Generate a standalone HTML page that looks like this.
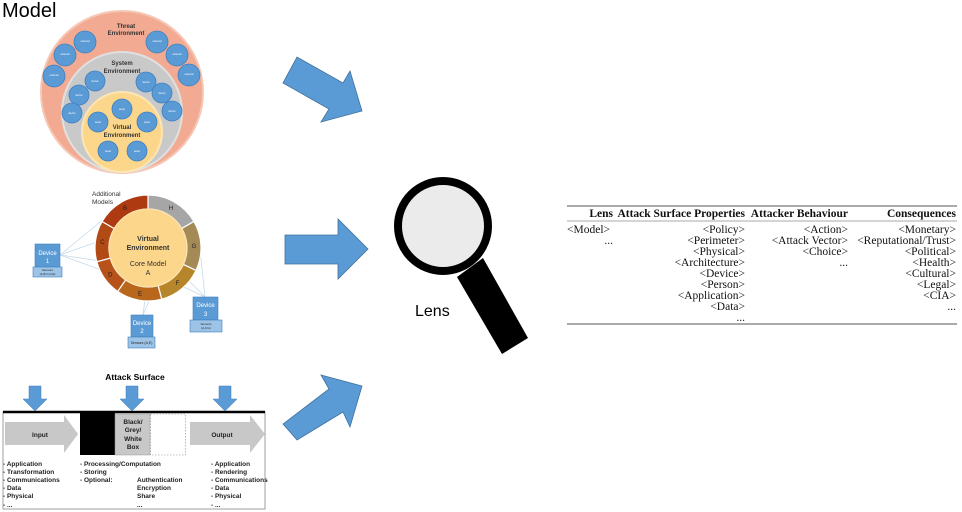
<!DOCTYPE html>
<html><head><meta charset="utf-8"><style>
html,body{margin:0;padding:0;background:#fff;}
svg{display:block;}
.s{font-family:"Liberation Sans",sans-serif;}
.t{font-family:"Liberation Serif",serif;font-size:11.5px;}
</style></head><body>
<svg width="962" height="512" viewBox="0 0 962 512" xmlns="http://www.w3.org/2000/svg">
<text x="2" y="17" class="s" font-size="20">Model</text>
<!-- model circles -->
<circle cx="122" cy="92" r="81" fill="#f2ab92" stroke="#f6c7b4" stroke-width="2"/>
<circle cx="122" cy="112" r="60" fill="#c9c9c9" stroke="#e0e0e0" stroke-width="2"/>
<circle cx="122" cy="132" r="40" fill="#fcd68a" stroke="#fde6b3" stroke-width="2"/>
<g fill="#5b9bd5" stroke="#3f7fbf" stroke-width="0.8">
<circle cx="85" cy="42" r="11"/><circle cx="65" cy="55" r="11"/><circle cx="54" cy="76" r="11"/>
<circle cx="157" cy="42" r="11"/><circle cx="177" cy="55" r="11"/><circle cx="189" cy="75" r="11"/>
<circle cx="95" cy="81" r="10"/><circle cx="79" cy="95" r="10"/><circle cx="72" cy="113" r="10"/>
<circle cx="146" cy="82" r="10"/><circle cx="162" cy="93" r="10"/><circle cx="172" cy="111" r="10"/>
<circle cx="122" cy="109" r="10"/><circle cx="98" cy="122" r="10"/><circle cx="147" cy="122" r="10"/>
<circle cx="108" cy="151" r="10"/><circle cx="137" cy="151" r="10"/>
</g>
<g class="s" font-size="2.5" fill="#fff" text-anchor="middle">
<text x="85" y="42">external</text><text x="65" y="55">external</text><text x="54" y="76">external</text>
<text x="157" y="42">external</text><text x="177" y="55">external</text><text x="189" y="75">external</text>
<text x="95" y="82">device</text><text x="79" y="96">device</text><text x="72" y="114">device</text>
<text x="146" y="83">device</text><text x="162" y="94">device</text><text x="172" y="112">device</text>
<text x="122" y="110">asset</text><text x="98" y="123">asset</text><text x="147" y="123">asset</text>
<text x="108" y="152">asset</text><text x="137" y="152">asset</text>
</g>
<g class="s" font-size="6" font-weight="bold" fill="#333" text-anchor="middle">
<text x="126" y="28">Threat</text><text x="126" y="35">Environment</text>
<text x="122" y="65">System</text><text x="122" y="73">Environment</text>
<text x="122" y="129">Virtual</text><text x="122" y="137">Environment</text>
</g>
<!-- wheel -->
<g stroke="#c5d9ea" stroke-width="0.8" fill="none">
<line x1="60" y1="255" x2="105" y2="218"/><line x1="60" y1="255" x2="108" y2="238"/>
<line x1="60" y1="255" x2="148" y2="268"/><line x1="60" y1="255" x2="115" y2="275"/>
<line x1="143" y1="315" x2="148" y2="275"/><line x1="143" y1="315" x2="150" y2="299"/>
<line x1="205" y1="297" x2="148" y2="270"/><line x1="205" y1="297" x2="200" y2="250"/><line x1="205" y1="297" x2="190" y2="282"/>
</g>
<g id="wheel" stroke="#fff" stroke-width="1.2"></g>
<circle cx="148" cy="248" r="39" fill="#fcd68a" stroke="#fde6b3" stroke-width="1"/>
<g class="s" font-size="7" fill="#333" text-anchor="middle">
<text x="148" y="241" font-weight="bold">Virtual</text><text x="148" y="250" font-weight="bold">Environment</text>
<text x="148" y="266">Core Model</text><text x="148" y="275">A</text>
<text x="92" y="196" text-anchor="start" font-size="6.5">Additional</text><text x="92" y="204" text-anchor="start" font-size="6.5">Models</text>
</g>
<g class="s" font-size="6" fill="#222" text-anchor="middle" id="wl"></g>
<!-- devices -->
<g class="s" text-anchor="middle">
<rect x="35" y="244" width="25" height="23" fill="#5b9bd5" stroke="#3f7fbf" stroke-width="0.6"/>
<rect x="33" y="267" width="29" height="10" fill="#9dc3e6" stroke="#3f7fbf" stroke-width="0.6"/>
<text x="47.5" y="255" font-size="6" fill="#fff">Device</text><text x="47.5" y="263" font-size="6" fill="#fff">1</text>
<text x="47.5" y="271" font-size="3" fill="#222">Sensors</text><text x="47.5" y="275" font-size="3" fill="#222">(A,B,C,D,E)</text>
<rect x="131" y="315" width="22" height="22" fill="#5b9bd5" stroke="#3f7fbf" stroke-width="0.6"/>
<rect x="128" y="337" width="27" height="11" fill="#9dc3e6" stroke="#3f7fbf" stroke-width="0.6"/>
<text x="142" y="325" font-size="6" fill="#fff">Device</text><text x="142" y="333" font-size="6" fill="#fff">2</text>
<text x="141.5" y="344" font-size="3.5" fill="#222">Sensors (A,E)</text>
<rect x="193" y="297" width="25" height="23" fill="#5b9bd5" stroke="#3f7fbf" stroke-width="0.6"/>
<rect x="190" y="320" width="32" height="12" fill="#9dc3e6" stroke="#3f7fbf" stroke-width="0.6"/>
<text x="205.5" y="307" font-size="6" fill="#fff">Device</text><text x="205.5" y="316" font-size="6" fill="#fff">3</text>
<text x="206" y="325" font-size="3" fill="#222">Sensors</text><text x="206" y="329" font-size="3" fill="#222">(A,F,G)</text>
</g>
<!-- attack surface -->
<text x="135" y="380" class="s" font-size="8.5" font-weight="bold" text-anchor="middle">Attack Surface</text>
<rect x="3" y="412" width="262" height="97" fill="#fff" stroke="#888" stroke-width="0.8"/>
<line x1="3" y1="412" x2="265" y2="412" stroke="#000" stroke-width="2.5"/>
<g fill="#5b9bd5" stroke="#3f7fbf" stroke-width="0.5">
<polygon points="29,386 41,386 41,399 47,399 35,411 23,399 29,399"/>
<polygon points="126,386 138,386 138,399 144,399 132,411 120,399 126,399"/>
<polygon points="219,386 231,386 231,399 237,399 225,411 213,399 219,399"/>
</g>
<polygon points="5,422 64,422 64,415 78,434 64,453 64,445 5,445" fill="#c8c8c8"/>
<polygon points="190,422 250,422 250,415 265,434 250,453 250,445 190,445" fill="#c8c8c8"/>
<rect x="80" y="413" width="35" height="42" fill="#000"/>
<rect x="115" y="414" width="35" height="41" fill="#c8c8c8" stroke="#999" stroke-width="0.5"/>
<rect x="150.5" y="414" width="35" height="41" fill="#fff" stroke="#888" stroke-width="0.6" stroke-dasharray="1.5,1.5"/>
<g class="s" font-size="6.5" font-weight="bold" fill="#222">
<text x="40" y="437" text-anchor="middle">Input</text>
<text x="222" y="437" text-anchor="middle">Output</text>
<text x="133" y="424" text-anchor="middle">Black/</text><text x="133" y="432" text-anchor="middle">Grey/</text>
<text x="133" y="441" text-anchor="middle">White</text><text x="133" y="449" text-anchor="middle">Box</text>
</g>
<g class="s" font-size="6.5" font-weight="bold" fill="#222">
<text x="3" y="466">- Application</text><text x="3" y="474">- Transformation</text><text x="3" y="482">- Communications</text><text x="3" y="490">- Data</text><text x="3" y="498">- Physical</text><text x="3" y="507">- ...</text>
<text x="80" y="466">- Processing/Computation</text><text x="80" y="474">- Storing</text><text x="80" y="482">- Optional:</text>
<text x="137" y="482">Authentication</text><text x="137" y="490">Encryption</text><text x="137" y="498">Share</text><text x="137" y="507">...</text>
<text x="211" y="466">- Application</text><text x="211" y="474">- Rendering</text><text x="211" y="482">- Communications</text><text x="211" y="490">- Data</text><text x="211" y="498">- Physical</text><text x="211" y="507">- ...</text>
</g>
<!-- big arrows -->
<g fill="#5b9bd5" stroke="#41719c" stroke-width="0.8">
<polygon points="283,83 297,57 343,83 350,71 362,111 321,122 329,109"/>
<polygon points="285,235 338,235 338,219 368,249 338,279 338,264 285,264"/>
<polygon points="283,424 297,440 343,412 350,427 362,386 321,375 329,389"/>
</g>
<!-- magnifier -->
<polygon points="457,277 483,258 528,338 502,354" fill="#000"/>
<circle cx="443" cy="226" r="45" fill="#ebebeb" stroke="#000" stroke-width="8"/>
<text x="415" y="316" class="s" font-size="16">Lens</text>
<!-- table -->
<line x1="567" y1="206" x2="957" y2="206" stroke="#555" stroke-width="1"/>
<line x1="567" y1="221" x2="957" y2="221" stroke="#555" stroke-width="0.6"/>
<line x1="567" y1="324" x2="957" y2="324" stroke="#555" stroke-width="1"/>
<g class="t" fill="#111" text-anchor="end">
<text x="613" y="217" font-weight="bold">Lens</text>
<text x="745" y="217" font-weight="bold">Attack Surface Properties</text>
<text x="848" y="217" font-weight="bold">Attacker Behaviour</text>
<text x="956" y="217" font-weight="bold">Consequences</text>
<text x="567" y="233" text-anchor="start">&lt;Model&gt;</text><text x="613" y="244">...</text>
<text x="745" y="233">&lt;Policy&gt;</text><text x="745" y="244">&lt;Perimeter&gt;</text><text x="745" y="255">&lt;Physical&gt;</text><text x="745" y="266">&lt;Architecture&gt;</text><text x="745" y="277">&lt;Device&gt;</text><text x="745" y="288">&lt;Person&gt;</text><text x="745" y="299">&lt;Application&gt;</text><text x="745" y="310">&lt;Data&gt;</text><text x="745" y="321">...</text>
<text x="848" y="233">&lt;Action&gt;</text><text x="848" y="244">&lt;Attack Vector&gt;</text><text x="848" y="255">&lt;Choice&gt;</text><text x="848" y="266">...</text>
<text x="956" y="233">&lt;Monetary&gt;</text><text x="956" y="244">&lt;Reputational/Trust&gt;</text><text x="956" y="255">&lt;Political&gt;</text><text x="956" y="266">&lt;Health&gt;</text><text x="956" y="277">&lt;Cultural&gt;</text><text x="956" y="288">&lt;Legal&gt;</text><text x="956" y="299">&lt;CIA&gt;</text><text x="956" y="310">...</text>
</g>
</svg>
<script>
(function(){
var cx=148,cy=248,R=53,r=39,ns="http://www.w3.org/2000/svg";
var segs=[["H",0,60,"#a6a6a6"],["G",60,115,"#a48a55"],["F",115,165,"#b7862a"],["E",165,215,"#b8671c"],["D",215,255,"#b5531a"],["C",255,300,"#b24a15"],["B",300,360,"#ad3a10"]];
function p(a,rad){var t=(a-90)*Math.PI/180;return [cx+rad*Math.cos(t),cy+rad*Math.sin(t)];}
var g=document.getElementById("wheel"),wl=document.getElementById("wl");
segs.forEach(function(s){
var a=p(s[1],R),b=p(s[2],R),c=p(s[2],r),d=p(s[1],r);
var path=document.createElementNS(ns,"path");
path.setAttribute("d","M"+a+" A"+R+" "+R+" 0 0 1 "+b+" L"+c+" A"+r+" "+r+" 0 0 0 "+d+"Z");
path.setAttribute("fill",s[3]);g.appendChild(path);
var m=p((s[1]+s[2])/2,46),t=document.createElementNS(ns,"text");
t.setAttribute("x",m[0]);t.setAttribute("y",m[1]+2);t.textContent=s[0];wl.appendChild(t);
});
})();
</script>
</body></html>
